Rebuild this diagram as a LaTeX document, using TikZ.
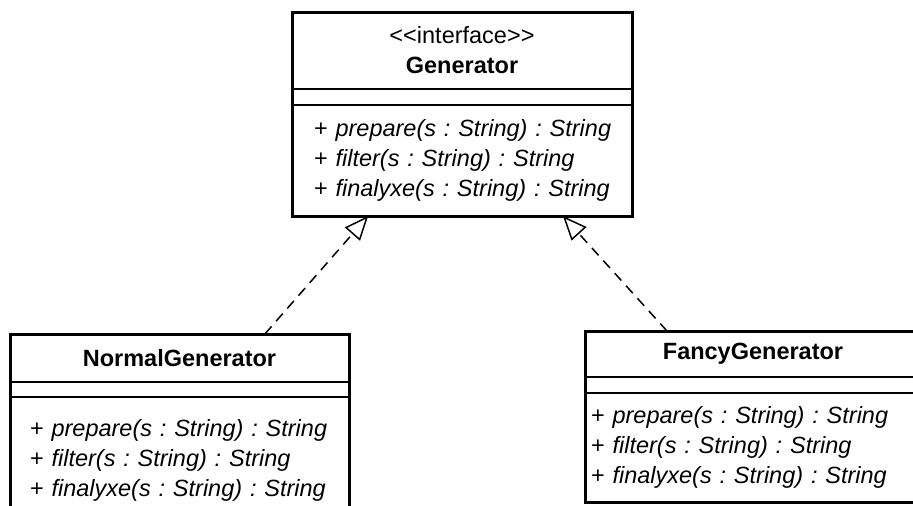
\documentclass[tikz,border=0pt]{standalone}
\usepackage{fontspec}
\setmainfont{Liberation Sans}[Ligatures=TeXOff]
\usetikzlibrary{positioning,calc,arrows.meta}

\newcommand{\umlsize}{\fontsize{23.5}{30}\selectfont\frenchspacing}
\newcommand{\op}[1]{\mbox{+ \textit{#1(s : String) : String}}}

\begin{document}
\begin{tikzpicture}[x=1pt, y=-1pt,
    classname/.style={draw, line width=1.2pt, outer sep=0pt, inner sep=0pt, font=\umlsize\bfseries, align=center},
    attrs/.style={draw, line width=1.2pt, outer sep=0pt, inner sep=0pt, minimum height=16pt},
    ops/.style={draw, line width=1.2pt, outer sep=0pt, inner ysep=0pt, font=\umlsize, align=left},
    frame/.style={line width=3pt},
    realizes/.style={line width=1.5pt, dash pattern=on 10pt off 7pt, -{Triangle[open, length=24pt, width=20pt]}}]
    \useasboundingbox (0,0) rectangle (913,506);
    \clip (0,0) rectangle (913,506);
    \fill[white] (0,0) rectangle (913,506);

    \node[classname, minimum width=340pt, minimum height=77pt, anchor=north west] (gen) at (292,12) {\textmd{<<interface>>}\\Generator};
    \node[attrs, minimum width=340pt, below=0pt of gen] (genattr) {};
    \node[ops, text width=296pt, inner xsep=22pt, minimum height=111pt, below=0pt of genattr] (genops) {\op{prepare}\\\op{filter}\\\op{finalyxe}};
    \draw[frame] (gen.north west) rectangle (genops.south east);

    \node[classname, minimum width=339pt, minimum height=48pt, anchor=north west] (normal) at (10,334) {NormalGenerator};
    \node[attrs, minimum width=339pt, minimum height=15pt, below=0pt of normal] (normalattr) {};
    \node[ops, text width=299pt, inner xsep=20pt, minimum height=126pt, below=0pt of normalattr] (normalops) {\op{prepare}\\\op{filter}\\\op{finalyxe}};
    \draw[frame] (normal.north west) rectangle (normalops.south east);

    \node[classname, minimum width=336pt, minimum height=46pt, anchor=north west] (fancy) at (585,331) {FancyGenerator};
    \node[attrs, minimum width=336pt, below=0pt of fancy] (fancyattr) {};
    \node[ops, text width=324pt, inner xsep=6pt, minimum height=109pt, below=0pt of fancyattr] (fancyops) {\op{prepare}\\\op{filter}\\\op{finalyxe}};
    \draw[frame] (fancy.north west) rectangle (fancyops.south east);

    \draw[realizes] ($(normal.north west)!0.752!(normal.north east)$) -- ($(genops.south west)!0.224!(genops.south east)$);
    \draw[realizes] ($(fancy.north west)!0.244!(fancy.north east)$) -- ($(genops.south west)!0.797!(genops.south east)$);
\end{tikzpicture}
\end{document}
